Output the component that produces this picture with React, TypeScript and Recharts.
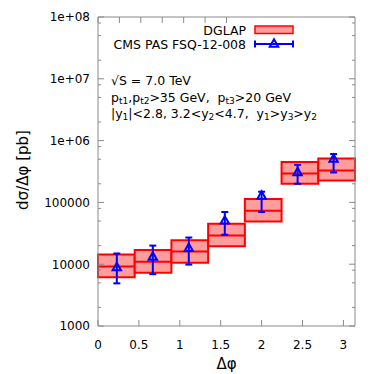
import React from 'react';
import {
  ComposedChart,
  XAxis,
  YAxis,
  Scatter,
  ErrorBar,
  ReferenceArea,
  ReferenceLine,
  Customized,
} from 'recharts';

// ---- data ----
const binEdges = [0, 0.4488, 0.8976, 1.3464, 1.7952, 2.244, 2.6928, 3.1416];
const dglapLow = [6150, 7300, 10600, 19600, 49000, 200000, 226000];
const dglapCentral = [9150, 11000, 16000, 29000, 73000, 294000, 329000];
const dglapHigh = [14300, 17000, 24500, 45000, 114000, 450000, 515000];

const cmsPhi = [0.23, 0.67, 1.11, 1.55, 2.0, 2.44, 2.88];
const cmsValue = [9000, 13300, 18400, 51000, 129000, 310000, 509000];
const cmsErrLow = [4900, 6900, 9850, 30000, 70000, 200000, 305000];
const cmsErrHigh = [14900, 20000, 27000, 70000, 149000, 406000, 606000];

const xTicks = [0, 0.5, 1, 1.5, 2, 2.5, 3];
const xTickLabels = ['0', '0.5', '1', '1.5', '2', '2.5', '3'];
const yMajorTicks = [1e3, 1e4, 1e5, 1e6, 1e7, 1e8];
const yTickLabels = ['1000', '10000', '100000', '1e+06', '1e+07', '1e+08'];
const yMinorFactors = [2, 5, 8];

const legendLabels = ['DGLAP', 'CMS PAS FSQ-12-008'];

// ---- derived ----
const yTicks: number[] = [];
yMajorTicks.forEach((d, i) => {
  yTicks.push(d);
  if (i < yMajorTicks.length - 1) yMinorFactors.forEach((f) => yTicks.push(d * f));
});
yTicks.sort((a, b) => a - b);

const cmsData = cmsPhi.map((x, i) => ({
  x,
  y: cmsValue[i],
  err: [cmsValue[i] - cmsErrLow[i], cmsErrHigh[i] - cmsValue[i]],
}));

const FONT = "'DejaVu Sans', sans-serif";
const FRAME = '#8a8a8a';
const RED = '#ff0000';
const PINK = '#ff9c9c';
const BLUE = '#0000ff';
const NB = '\u00a0';

const isMajor = (v: number) => yMajorTicks.findIndex((m) => Math.abs(m - v) / m < 1e-9);

const LeftTick = (props: any) => {
  const { x, y, payload } = props;
  const idx = isMajor(payload.value);
  const major = idx >= 0;
  return (
    <g>
      <line x1={x} y1={y} x2={x + (major ? 6 : 3)} y2={y} stroke={FRAME} strokeWidth={1} />
      {major && (
        <text x={x - 8} y={y} dy={4.3} textAnchor="end" fontSize={12} fontFamily={FONT} fill="#000">
          {yTickLabels[idx]}
        </text>
      )}
    </g>
  );
};

const RightTick = (props: any) => {
  const { x, y, payload } = props;
  const major = isMajor(payload.value) >= 0;
  return <line x1={x} y1={y} x2={x - (major ? 6 : 3)} y2={y} stroke={FRAME} strokeWidth={1} />;
};

const BottomTick = (props: any) => {
  const { x, y, payload } = props;
  const idx = xTicks.indexOf(payload.value);
  return (
    <g>
      <line x1={x} y1={y} x2={x} y2={y - 6} stroke={FRAME} strokeWidth={1} />
      <text x={x} y={y + 22.5} textAnchor="middle" fontSize={12} fontFamily={FONT} fill="#000">
        {xTickLabels[idx]}
      </text>
    </g>
  );
};

const TopTick = (props: any) => {
  const { x, y } = props;
  return <line x1={x} y1={y} x2={x} y2={y + 6} stroke={FRAME} strokeWidth={1} />;
};

const Triangle = (props: any) => {
  const { cx, cy } = props;
  if (cx == null || cy == null) return null;
  const s = 4.2;
  return (
    <path
      d={`M${cx},${cy - s} L${cx + s},${cy + s * 0.75} L${cx - s},${cy + s * 0.75} Z`}
      fill="none"
      stroke={BLUE}
      strokeWidth={2}
    />
  );
};

const Overlay = () => {
  const fs = 12.5;
  const sub = 9;
  return (
    <g fontFamily={FONT} fill="#000">
      {/* legend */}
      <text x={246} y={34.5} textAnchor="end" fontSize={fs}>{legendLabels[0]}</text>
      <rect x={255} y={26} width={38} height={7.5} fill={PINK} stroke={RED} strokeWidth={1.5} />
      <text x={246} y={48.5} textAnchor="end" fontSize={fs}>{legendLabels[1]}</text>
      <line x1={255} y1={44} x2={293} y2={44} stroke={BLUE} strokeWidth={2} />
      <line x1={255} y1={40.5} x2={255} y2={47.5} stroke={BLUE} strokeWidth={2} />
      <line x1={293} y1={40.5} x2={293} y2={47.5} stroke={BLUE} strokeWidth={2} />
      <Triangle cx={274} cy={43.5} />
      {/* annotations */}
      <text x={111} y={85} fontSize={fs}>√S = 7.0 TeV</text>
      <text x={111} y={101.5} fontSize={fs}>
        p<tspan fontSize={sub} dy={2}>t1</tspan>
        <tspan dy={-2}>,p</tspan>
        <tspan fontSize={sub} dy={2}>t2</tspan>
        <tspan dy={-2}>{`>35 GeV,${NB}${NB}p`}</tspan>
        <tspan fontSize={sub} dy={2}>t3</tspan>
        <tspan dy={-2}>{'>20 GeV'}</tspan>
      </text>
      <text x={111} y={117.5} fontSize={fs}>
        |y<tspan fontSize={sub} dy={2}>1</tspan>
        <tspan dy={-2}>{'|<2.8, 3.2<y'}</tspan>
        <tspan fontSize={sub} dy={2}>2</tspan>
        <tspan dy={-2}>{`<4.7,${NB}${NB}y`}</tspan>
        <tspan fontSize={sub} dy={2}>1</tspan>
        <tspan dy={-2}>{'>y'}</tspan>
        <tspan fontSize={sub} dy={2}>3</tspan>
        <tspan dy={-2}>{'>y'}</tspan>
        <tspan fontSize={sub} dy={2}>2</tspan>
      </text>
      {/* axis titles */}
      <text x={226.5} y={369} textAnchor="middle" fontSize={15}>Δφ</text>
      <text
        x={0}
        y={0}
        transform="translate(28,170) rotate(-90)"
        textAnchor="middle"
        fontSize={15}
      >
        dσ/Δφ [pb]
      </text>
    </g>
  );
};

export default function App() {
  return (
    <div style={{ position: 'absolute', left: 0, top: 0, width: 374, height: 374, background: '#fff' }}>
      <ComposedChart
        width={374}
        height={374}
        margin={{ top: 12, right: 14, bottom: 18, left: 58 }}
        data={cmsData}
      >
        <XAxis
          type="number"
          dataKey="x"
          domain={[0, Math.PI]}
          ticks={xTicks}
          interval={0}
          allowDataOverflow
          height={30}
          tickSize={0}
          tickMargin={0}
          tickLine={false}
          axisLine={{ stroke: FRAME, strokeWidth: 1 }}
          tick={<BottomTick />}
        />
        <XAxis
          xAxisId="top"
          orientation="top"
          type="number"
          domain={[0, Math.PI]}
          ticks={xTicks}
          interval={0}
          allowDataOverflow
          height={5}
          tickSize={0}
          tickMargin={0}
          tickLine={false}
          axisLine={{ stroke: FRAME, strokeWidth: 1 }}
          tick={<TopTick />}
        />
        <YAxis
          type="number"
          scale="log"
          domain={[1000, 1e8]}
          ticks={yTicks}
          interval={0}
          allowDataOverflow
          width={40}
          tickSize={0}
          tickMargin={0}
          tickLine={false}
          axisLine={{ stroke: FRAME, strokeWidth: 1 }}
          tick={<LeftTick />}
        />
        <YAxis
          yAxisId="right"
          orientation="right"
          type="number"
          scale="log"
          domain={[1000, 1e8]}
          ticks={yTicks}
          interval={0}
          allowDataOverflow
          width={5}
          tickSize={0}
          tickMargin={0}
          tickLine={false}
          axisLine={{ stroke: FRAME, strokeWidth: 1 }}
          tick={<RightTick />}
        />
        {dglapCentral.map((c, i) => (
          <ReferenceArea
            key={`box-${i}`}
            x1={binEdges[i]}
            x2={binEdges[i + 1]}
            y1={dglapLow[i]}
            y2={dglapHigh[i]}
            fill={PINK}
            fillOpacity={1}
            stroke={RED}
            strokeWidth={2}
            ifOverflow="visible"
          />
        ))}
        {dglapCentral.map((c, i) => (
          <ReferenceLine
            key={`mid-${i}`}
            segment={[
              { x: binEdges[i], y: c },
              { x: binEdges[i + 1], y: c },
            ]}
            stroke={RED}
            strokeWidth={2}
            ifOverflow="visible"
          />
        ))}
        <Scatter dataKey="y" data={cmsData} shape={<Triangle />} isAnimationActive={false}>
          <ErrorBar dataKey="err" direction="y" width={3.5} stroke={BLUE} strokeWidth={2} />
        </Scatter>
        <Customized component={Overlay} />
      </ComposedChart>
    </div>
  );
}
